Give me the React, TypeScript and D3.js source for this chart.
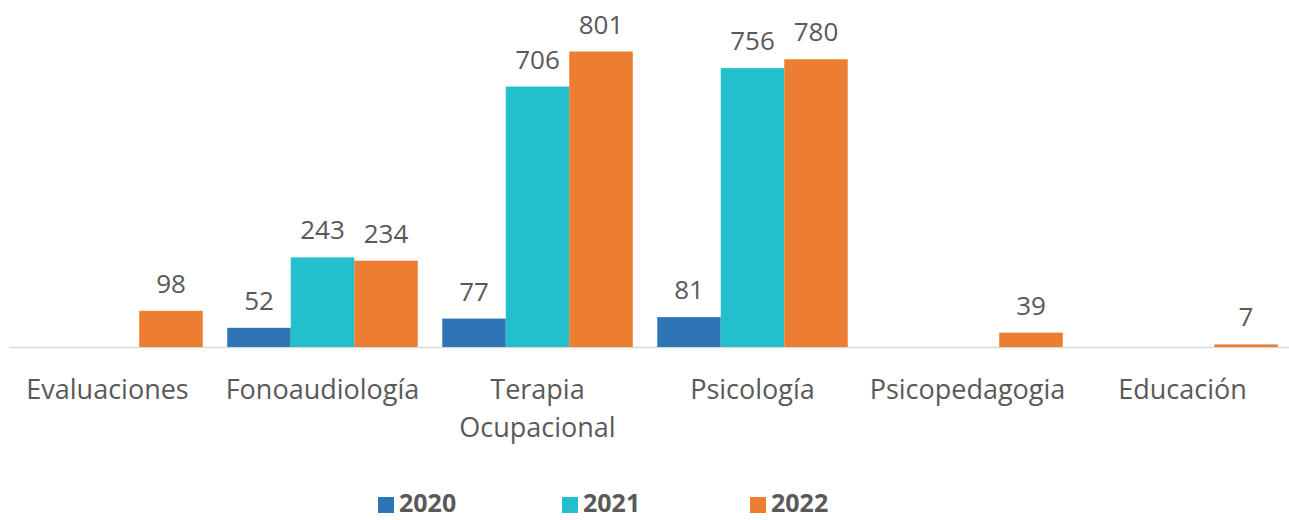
import { useRef, useEffect } from "react";
import * as d3 from "d3";

const categories = [
  ["Evaluaciones"],
  ["Fonoaudiología"],
  ["Terapia", "Ocupacional"],
  ["Psicología"],
  ["Psicopedagogia"],
  ["Educación"],
];
const years = ["2020", "2021", "2022"];
const values2020 = [null, 52, 77, 81, null, null];
const values2021 = [null, 243, 706, 756, null, null];
const values2022 = [98, 234, 801, 780, 39, 7];
const colors = ["#2E75B6", "#24BFCC", "#ED7D31"];

export default function App() {
  const svgRef = useRef<SVGSVGElement>(null);

  useEffect(() => {
    if (!svgRef.current) return;
    const width = 1289;
    const baseline = 347;
    const font = "'Open Sans', sans-serif";

    const svg = d3.select(svgRef.current);
    svg.selectAll("*").remove();

    const names = categories.map((c) => c.join(" "));
    const x = d3.scaleBand().domain(names).range([0, 1290]).paddingInner(0.114).paddingOuter(0.057);
    const x1 = d3.scaleBand().domain(years).range([0, x.bandwidth()]);
    const y = d3.scaleLinear().domain([0, 900]).range([baseline, 15]);

    const series = [values2020, values2021, values2022];
    const cells: { cat: string; year: string; v: number; i: number }[] = [];
    series.forEach((vals, i) => {
      vals.forEach((v, j) => {
        if (v != null) cells.push({ cat: names[j], year: years[i], v, i });
      });
    });

    svg.append("line")
      .attr("x1", 9).attr("x2", width)
      .attr("y1", baseline + 0.5).attr("y2", baseline + 0.5)
      .attr("stroke", "#D9D9D9").attr("stroke-width", 1.5);

    svg.selectAll(".bar")
      .data(cells)
      .join("rect")
      .attr("x", (d) => (x(d.cat) || 0) + (x1(d.year) || 0))
      .attr("y", (d) => y(d.v))
      .attr("width", x1.bandwidth())
      .attr("height", (d) => baseline - y(d.v))
      .attr("fill", (d) => colors[d.i]);

    svg.selectAll(".val")
      .data(cells)
      .join("text")
      .attr("x", (d) => (x(d.cat) || 0) + (x1(d.year) || 0) + x1.bandwidth() / 2)
      .attr("y", (d) => y(d.v) - 18)
      .attr("text-anchor", "middle")
      .attr("fill", "#595959")
      .attr("font-size", "26px")
      .attr("font-family", font)
      .text((d) => d.v);

    const labels = svg.selectAll(".cat")
      .data(categories)
      .join("text")
      .attr("x", (_, j) => (x(names[j]) || 0) + x.bandwidth() / 2)
      .attr("y", 399)
      .attr("text-anchor", "middle")
      .attr("fill", "#595959")
      .attr("font-size", "27px")
      .attr("font-family", font);
    labels.each(function (lines, j) {
      const cx = (x(names[j]) || 0) + x.bandwidth() / 2;
      d3.select(this).selectAll("tspan")
        .data(lines)
        .join("tspan")
        .attr("x", cx)
        .attr("dy", (_, k) => (k === 0 ? 0 : 38))
        .text((t) => t);
    });

    const legendX = [378, 562, 750];
    const legend = svg.selectAll(".leg").data(years).join("g")
      .attr("transform", (_, i) => `translate(${legendX[i]},497)`);
    legend.append("rect").attr("width", 16).attr("height", 16).attr("fill", (_, i) => colors[i]);
    legend.append("text")
      .attr("x", 21).attr("y", 15)
      .attr("fill", "#595959")
      .attr("font-size", "25px")
      .attr("font-weight", "bold")
      .attr("font-family", font)
      .text((d) => d);
  }, []);

  return (
    <div style={{ position: "absolute", left: 0, top: 0, background: "#fff" }}>
      <svg ref={svgRef} width={1289} height={520} />
    </div>
  );
}
